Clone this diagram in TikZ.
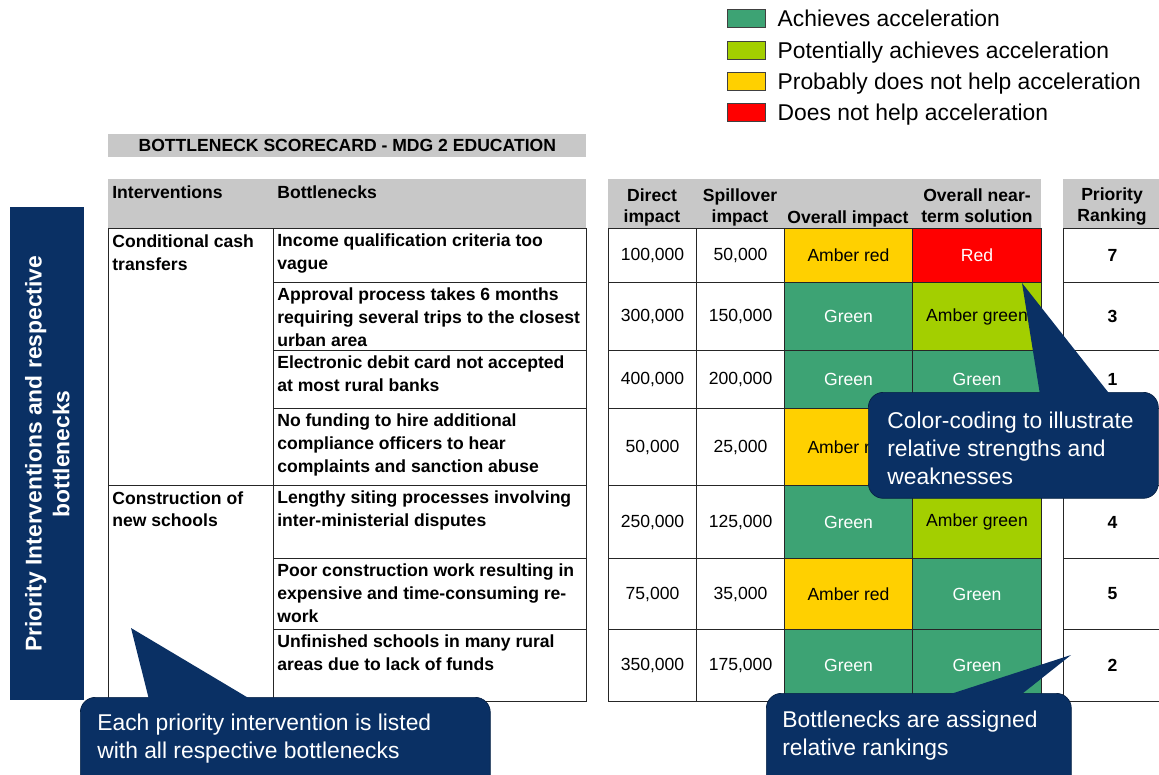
\documentclass[tikz,border=0pt]{standalone}
\usepackage{fontspec}
\setmainfont{Liberation Sans}
\usetikzlibrary{positioning}
\definecolor{navy}{RGB}{10,48,100}
\definecolor{hdrgray}{RGB}{200,200,200}
\definecolor{cgreen}{RGB}{61,163,116}
\definecolor{clime}{RGB}{163,207,0}
\definecolor{camber}{RGB}{255,208,0}
\definecolor{cred}{RGB}{255,0,0}

\begin{document}
\begin{tikzpicture}[x=0.02cm, y=-0.02cm,
	cell/.style={draw=black!85, line width=0.6pt, anchor=north west, inner sep=0pt, font=\fontsize{10}{13}\selectfont},
	hdr/.style={fill=hdrgray, anchor=north west, inner sep=0pt, minimum height=0.98cm},
	htext/.style={anchor=north, align=center, inner sep=0pt, font=\fontsize{10}{12.3}\selectfont\bfseries},
	btext/.style={anchor=north west, align=left, inner sep=0pt, font=\fontsize{10}{13}\selectfont\bfseries},
	swatch/.style={draw=black!75, minimum width=0.76cm, minimum height=0.36cm, inner sep=0pt},
	legtext/.style={inner sep=0pt, text height=0.92em, text depth=0.2em, yshift=-0.04cm, font=\fontsize{13}{15}\selectfont},
	callout/.style={fill=navy, draw=navy!70!black, rounded corners=0.3cm, anchor=north west, inner sep=0pt},
	ctext/.style={anchor=north west, align=left, inner sep=0pt, text=white, font=\fontsize{13}{15.8}\selectfont},
	gr/.style={fill=cgreen, text=white}, ag/.style={fill=clime}, ar/.style={fill=camber}, rd/.style={fill=cred, text=white}]

	\useasboundingbox (0,0) rectangle (1159,774);

	\node[swatch, fill=cgreen] (l1) at (746,18) {};
	\node[swatch, fill=clime, on grid, below=0.64cm of l1] (l2) {};
	\node[swatch, fill=camber, on grid, below=0.62cm of l2] (l3) {};
	\node[swatch, fill=cred, on grid, below=0.62cm of l3] (l4) {};
	\node[legtext, right=0.24cm of l1] (lt1) {Achieves acceleration};
	\node[legtext, right=0.24cm of l2] (lt2) {Potentially achieves acceleration};
	\node[legtext, right=0.24cm of l3] (lt3) {Probably does not help acceleration};
	\node[legtext, right=0.24cm of l4] (lt4) {Does not help acceleration};

	\node[hdr, minimum width=9.56cm, minimum height=0.46cm, font=\fontsize{10}{12}\selectfont\bfseries] (title) at (108,134) {BOTTLENECK SCORECARD - MDG 2 EDUCATION};

	\node[hdr, minimum width=9.56cm] (lhead) at (108,179) {};
	\node[hdr, minimum width=8.66cm] (rhead) at (608,179) {};
	\node[hdr, minimum width=1.96cm] (phead) at (1063,179) {};
	\node[htext, anchor=north west] (hint) at (112,185) {Interventions};
	\node[htext, anchor=north west] (hbot) at (277,185) {Bottlenecks};
	\node[htext] (hdir) at (652,188) {Direct\\impact};
	\node[htext] (hspill) at (740,188) {Spillover\\impact};
	\node[htext] (himp) at (848,210) {Overall impact};
	\node[htext] (hnear) at (977,188) {Overall near-\\term solution};
	\node[htext] (hrank) at (1112,187) {Priority\\Ranking};

	\node[cell, minimum width=3.3cm, minimum height=5.14cm] (iv1) at (108,228) {};
	\node[cell, minimum width=3.3cm, minimum height=4.32cm] (iv2) at (108,485) {};
	\node[btext] (ivt1) at (112,234.5) {Conditional cash\\transfers};
	\node[btext] (ivt2) at (112,491) {Construction of\\new schools};

	\foreach \row/\ya/\hh/\bneck/\dir/\spill/\imp/\impt/\near/\neart/\rank in {
		1/228/54/{Income qualification criteria too\\vague}/{100,000}/{50,000}/ar/Amber red/rd/Red/7,
		2/282/68/{Approval process takes 6 months\\requiring several trips to the closest\\urban area}/{300,000}/{150,000}/gr/Green/ag/Amber green/3,
		3/350/58/{Electronic debit card not accepted\\at most rural banks}/{400,000}/{200,000}/gr/Green/gr/Green/1,
		4/408/77/{No funding to hire additional\\compliance officers to hear\\complaints and sanction abuse}/{50,000}/{25,000}/ar/Amber red/gr/{}/{},
		5/485/73/{Lengthy siting processes involving\\inter-ministerial disputes}/{250,000}/{125,000}/gr/Green/ag/Amber green/4,
		6/558/71/{Poor construction work resulting in\\expensive and time-consuming re-\\work}/{75,000}/{35,000}/ar/Amber red/gr/Green/5,
		7/629/72/{Unfinished schools in many rural\\areas due to lack of funds}/{350,000}/{175,000}/gr/Green/gr/Green/2}
	{
		\node[cell, minimum width=6.26cm, minimum height=\hh*0.02cm] (b\row) at (273,\ya) {};
		\node[btext] (bt\row) at (277,\ya+5.5) {\bneck};
		\node[cell, minimum width=1.76cm, minimum height=\hh*0.02cm] (d\row) at (608,\ya) {\dir};
		\node[cell, minimum width=1.76cm, minimum height=\hh*0.02cm] (s\row) at (696,\ya) {\spill};
		\node[cell, \imp, minimum width=2.56cm, minimum height=\hh*0.02cm] (i\row) at (784,\ya) {\impt};
		\node[cell, \near, minimum width=2.58cm, minimum height=\hh*0.02cm] (o\row) at (912,\ya) {\neart};
		\node[cell, minimum width=1.96cm, minimum height=\hh*0.02cm, font=\fontsize{10}{13}\selectfont\bfseries] (p\row) at (1063,\ya) {\rank};
	}

	\node[fill=navy, anchor=north west, inner sep=0pt, minimum width=1.48cm, minimum height=9.86cm] (band) at (10,207) {};
	\node[rotate=90, align=center, text=white, font=\fontsize{13}{15.9}\selectfont\bfseries] (bandt) at (band.center) {Priority Interventions and respective\\bottlenecks};

	\node[callout, minimum width=5.8cm, minimum height=2.12cm] (c1) at (868,392) {};
	\coordinate (tip1) at (1022,283);
	\fill[navy] ([xshift=3.44cm, yshift=-0.05cm]c1.north west) -- (tip1) -- ([xshift=4.84cm, yshift=-0.05cm]c1.north west) -- cycle;
	\node[ctext] (ct1) at (887,412) {Color-coding to illustrate\\relative strengths and\\weaknesses};

	\node[callout, minimum width=8.2cm, minimum height=1.86cm] (c2) at (80,697) {};
	\coordinate (tip2) at (131,628);
	\fill[navy] ([xshift=1.38cm, yshift=-0.05cm]c2.north west) -- (tip2) -- ([xshift=3.42cm, yshift=-0.05cm]c2.north west) -- cycle;
	\node[ctext] (ct2) at (97,714) {Each priority intervention is listed\\with all respective bottlenecks};

	\node[callout, minimum width=6.1cm, minimum height=1.94cm] (c3) at (766,693) {};
	\coordinate (tip3) at (1071,655);
	\fill[navy] ([xshift=3.6cm, yshift=-0.05cm]c3.north west) -- (tip3) -- ([xshift=5.08cm, yshift=-0.05cm]c3.north west) -- cycle;
	\node[ctext] (ct3) at (782,711) {Bottlenecks are assigned\\relative rankings};
\end{tikzpicture}
\end{document}
